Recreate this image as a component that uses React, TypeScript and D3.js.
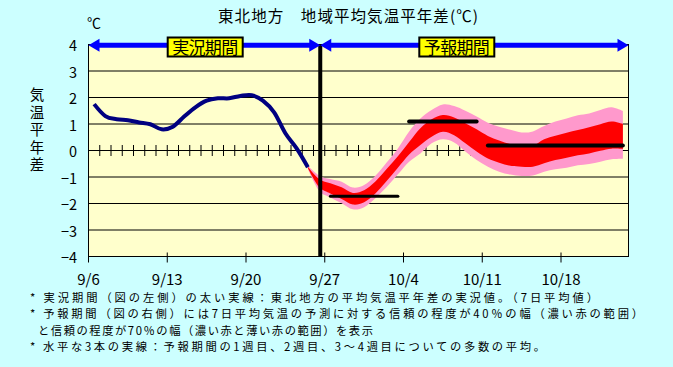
import React from 'react';
import * as d3 from 'd3';

const W = 673;
const H = 367;

// x tick labels (days since 9/6)
const tickLabels = ['9/6', '9/13', '9/20', '9/27', '10/4', '10/11', '10/18'];
const tickDays = [0, 7, 14, 21, 28, 35, 42];
const totalDays = 48;
const yTicks = [-4, -3, -2, -1, 0, 1, 2, 3, 4];
const yTickLabels = ['−4', '−3', '−2', '−1', '0', '1', '2', '3', '4'];

// observed 7-day mean anomaly (index 0 = 9/6)
const observed = [1.75, 1.30, 1.18, 1.14, 1.06, 0.99, 0.80, 0.90, 1.28, 1.63,
  1.88, 1.97, 1.97, 2.06, 2.09, 1.88, 1.44, 0.65, 0.08, -0.63];

// forecast band, index 19..47
const fcstStartIndex = 19;
const pinkTop = [-0.58, -0.95, -1.08, -1.18, -1.40, -1.30, -0.95, -0.45, 0.08, 0.72,
  1.21, 1.53, 1.74, 1.68, 1.50, 1.28, 1.05, 0.90, 0.78, 0.68,
  0.72, 0.92, 1.09, 1.21, 1.33, 1.40, 1.53, 1.63, 1.49];
const redTop = [-0.61, -1.08, -1.24, -1.39, -1.60, -1.50, -1.17, -0.70, -0.22, 0.32,
  0.84, 1.18, 1.34, 1.25, 1.03, 0.80, 0.55, 0.38, 0.24, 0.14,
  0.17, 0.42, 0.56, 0.67, 0.77, 0.88, 0.99, 1.09, 1.00];
const redBot = [-0.66, -1.38, -1.62, -1.83, -2.04, -1.95, -1.62, -1.15, -0.65, -0.15,
  0.21, 0.52, 0.71, 0.58, 0.27, -0.04, -0.30, -0.46, -0.58, -0.61,
  -0.61, -0.48, -0.36, -0.27, -0.18, -0.11, -0.01, 0.07, 0.05];
const pinkBot = [-0.70, -1.52, -1.77, -1.99, -2.22, -2.14, -1.80, -1.38, -0.90, -0.42,
  -0.11, 0.27, 0.42, 0.30, -0.04, -0.36, -0.61, -0.80, -0.91, -0.96,
  -0.94, -0.80, -0.71, -0.65, -0.56, -0.51, -0.42, -0.33, -0.31];

// ensemble mean for week 1, week 2, weeks 3-4
const meanStart = [21, 28, 35];
const meanEnd = [27, 34, 47];
const meanValue = [-1.73, 1.09, 0.19];
const meanWidth = [3, 4, 4];

const boundaryDay = 20.6;

const title = '東北地方　地域平均気温平年差(℃)';
const yTitle = '気温平年差';
const periodLabels = ['実況期間', '予報期間'];
const notes = [
  '* 実況期間（図の左側）の太い実線：東北地方の平均気温平年差の実況値。（7日平均値）',
  '* 予報期間（図の右側）には7日平均気温の予測に対する信頼の程度が40％の幅（濃い赤の範囲）',
  'と信頼の程度が70％の幅（濃い赤と薄い赤の範囲）を表示',
  '* 水平な3本の実線：予報期間の1週目、2週目、3～4週目についての多数の平均。',
];
const noteX = [30, 30, 38, 30];
const noteEnd = [598, 643, 373, 545];
const noteY = [301.5, 318, 334.5, 351];

const FONT = '"Noto Sans CJK JP", "Noto Sans", sans-serif';

export default function App() {
  const x = d3.scaleLinear().domain([0, totalDays]).range([88.5, 628.5]);
  const y = d3.scaleLinear().domain([-4, 4]).range([256.5, 44.5]);
  const xi = (i: number) => x(i + 0.5);

  const curve = d3.curveCardinal.tension(0);
  const obsLine = d3.line<number>().x((_, i) => xi(i)).y((d) => y(d)).curve(curve);

  const idx = pinkTop.map((_, k) => k + fcstStartIndex);
  const area = (top: number[], bot: number[]) =>
    d3.area<number>()
      .x((i) => xi(i))
      .y0((i) => y(bot[i - fcstStartIndex]))
      .y1((i) => y(top[i - fcstStartIndex]))
      .curve(curve)(idx) || '';

  const x0 = x(0), x1 = x(totalDays);
  const yTop = y(4), yBot = y(-4);
  const arrowY = 45.3;
  const xb = x(boundaryDay);

  const arrow = (a: number, b: number) => {
    const hl = 11, hh = 6.5;
    return (
      <g>
        <line x1={a + hl - 1} x2={b - hl + 1} y1={arrowY} y2={arrowY} stroke="#0000FF" strokeWidth={5} />
        <polygon points={`${a},${arrowY} ${a + hl},${arrowY - hh} ${a + hl},${arrowY + hh}`} fill="#0000FF" />
        <polygon points={`${b},${arrowY} ${b - hl},${arrowY - hh} ${b - hl},${arrowY + hh}`} fill="#0000FF" />
      </g>
    );
  };

  const box = (cx: number, label: string) => (
    <g>
      <rect x={cx - 37.5} y={37.5} width={75} height={19} fill="#FFFF00" stroke="#000" strokeWidth={2} />
      <text x={cx} y={53.5} textAnchor="middle" fontSize={17} fontFamily={FONT} fill="#000"
        textLength={66} lengthAdjust="spacing">{label}</text>
    </g>
  );

  const dayTicks = d3.range(1, totalDays);

  return (
    <svg width={W} height={H} style={{ position: 'absolute', left: 0, top: 0 }} xmlns="http://www.w3.org/2000/svg">
      <rect x={0} y={0} width={W} height={H} fill="#CCFFFF" />
      <text x={218} y={22} fontSize={15.5} fontFamily={FONT} fill="#000"
        textLength={260} lengthAdjust="spacing">{title}</text>
      <text x={87} y={28} fontSize={14} fontFamily={FONT} fill="#000">℃</text>

      <rect x={x0} y={yTop} width={x1 - x0} height={yBot - yTop} fill="#FFFFCC" />
      {yTicks.filter((v) => v !== -4 && v !== 4).map((v) => (
        <line key={v} x1={x0} x2={x1} y1={y(v)} y2={y(v)} stroke="#000" strokeWidth={1} />
      ))}
      {dayTicks.map((d) => (
        <line key={d} x1={x(d)} x2={x(d)} y1={y(0) - 5.5} y2={y(0) + 5.5} stroke="#000" strokeWidth={1} />
      ))}

      <path d={area(pinkTop, pinkBot)} fill="#FF99CC" />
      <path d={area(redTop, redBot)} fill="#FF0000" />

      <path d={obsLine(observed) || ''} fill="none" stroke="#000080" strokeWidth={4} strokeLinejoin="round" />

      {meanValue.map((v, k) => (
        <line key={k} x1={xi(meanStart[k])} x2={xi(meanEnd[k])} y1={y(v)} y2={y(v)}
          stroke="#000" strokeWidth={meanWidth[k]} strokeLinecap="round" />
      ))}

      <rect x={x0} y={yTop} width={x1 - x0} height={yBot - yTop} fill="none" stroke="#000" strokeWidth={1} />
      <line x1={xb} x2={xb} y1={yTop} y2={yBot} stroke="#000" strokeWidth={4} />

      {tickDays.map((d, k) => (
        <g key={d}>
          <line x1={x(d)} x2={x(d)} y1={yBot - 4} y2={yBot + 6} stroke="#000" strokeWidth={1} />
          <text x={x(d)} y={285} textAnchor="middle" fontSize={15} fontFamily={FONT} fill="#000">{tickLabels[k]}</text>
        </g>
      ))}
      {yTicks.map((v, k) => (
        <text key={v} x={77} y={y(v) + 6.5} textAnchor="end" fontSize={14.5} fontFamily={FONT} fill="#000">{yTickLabels[k]}</text>
      ))}
      <text x={37} y={87.5} fontSize={14.5} fontFamily={FONT} fill="#000"
        style={{ writingMode: 'vertical-rl' }} letterSpacing={3}>{yTitle}</text>

      {arrow(x0, xb)}
      {arrow(xb, x1)}
      {box(205.2, periodLabels[0])}
      {box(456.8, periodLabels[1])}

      {notes.map((t, k) => (
        <text key={k} x={noteX[k]} y={noteY[k]} fontSize={11.3} fontFamily={FONT} fill="#000"
          textLength={noteEnd[k] - noteX[k]} lengthAdjust="spacing">{t}</text>
      ))}
    </svg>
  );
}
